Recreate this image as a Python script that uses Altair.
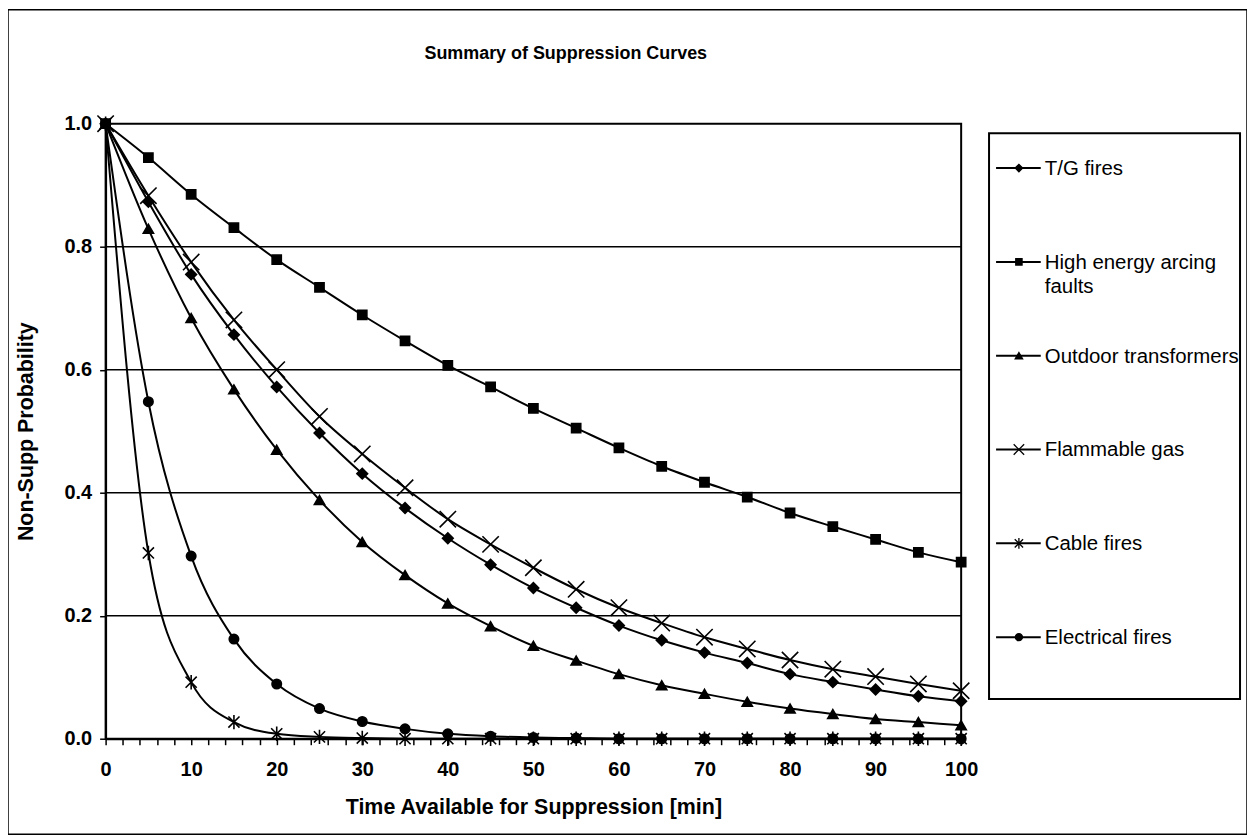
import altair as alt
import pandas as pd

# ---------------- data ----------------
times = list(range(0, 101, 5))
series_names = ["T/G fires", "High energy arcing faults", "Outdoor transformers",
                "Flammable gas", "Cable fires", "Electrical fires"]
legend_text = ["T/G fires", "High energy arcing\nfaults", "Outdoor transformers",
               "Flammable gas", "Cable fires", "Electrical fires"]

tg_fires = [1.0, 0.873, 0.755, 0.657, 0.572, 0.497, 0.431, 0.375, 0.326, 0.283, 0.245,
            0.213, 0.184, 0.160, 0.140, 0.123, 0.105, 0.092, 0.080, 0.069, 0.061]
heaf = [1.0, 0.945, 0.885, 0.831, 0.779, 0.734, 0.689, 0.647, 0.607, 0.572, 0.537,
        0.505, 0.473, 0.443, 0.417, 0.393, 0.367, 0.345, 0.324, 0.303, 0.287]
outdoor_tx = [1.0, 0.829, 0.684, 0.568, 0.470, 0.388, 0.320, 0.266, 0.220, 0.183, 0.151,
              0.127, 0.105, 0.087, 0.073, 0.060, 0.049, 0.040, 0.032, 0.027, 0.022]
flammable_gas = [1.0, 0.883, 0.775, 0.681, 0.600, 0.524, 0.463, 0.408, 0.357, 0.316, 0.278,
                 0.243, 0.213, 0.188, 0.165, 0.146, 0.128, 0.113, 0.101, 0.089, 0.078]
cable_fires = [1.0, 0.302, 0.092, 0.027, 0.008, 0.003, 0.001, 0.0, 0.0, 0.0, 0.0,
               0.0, 0.0, 0.0, 0.0, 0.0, 0.0, 0.0, 0.0, 0.0, 0.0]
electrical_fires = [1.0, 0.548, 0.297, 0.162, 0.089, 0.049, 0.028, 0.016, 0.008, 0.004, 0.002,
                    0.001, 0.0, 0.0, 0.0, 0.0, 0.0, 0.0, 0.0, 0.0, 0.0]

y_tick_values = [0.0, 0.2, 0.4, 0.6, 0.8, 1.0]
grid_values = [0.2, 0.4, 0.6, 0.8]
x_tick_values = list(range(0, 101, 2))

all_series = [tg_fires, heaf, outdoor_tx, flammable_gas, cable_fires, electrical_fires]
rows = []
for name, vals in zip(series_names, all_series):
    for t, v in zip(times, vals):
        rows.append({"series": name, "time": t, "prob": v})
df = pd.DataFrame(rows)
grid_df = pd.DataFrame({"value": grid_values})
frame_df = pd.DataFrame({"k": [0]})
leg_df = pd.DataFrame({"series": series_names, "idx": list(range(len(series_names))),
                       "text": legend_text})

# ---------------- styling ----------------
FONT = "Liberation Sans"
X_TITLE = "Time Available for Suppression [min]"
Y_TITLE = "Non-Supp Probability"
shape_range = ["diamond", "square", "triangle-up",
               "M-1,-1L1,1M-1,1L1,-1",
               "M-1,-1L1,1M-1,1L1,-1M0,-1.3L0,1.3",
               "circle"]
size_main = [115, 85, 105, 270, 125, 90]
size_leg = [55, 40, 55, 110, 70, 50]

x_scale = alt.Scale(domain=[0, 100], range=[98, 957], nice=False, zero=False)
y_scale = alt.Scale(domain=[0, 1], range=[732, 114.5], nice=False, zero=False)
shape_scale = alt.Scale(type="ordinal", domain=series_names, range=shape_range)

x_axis = alt.Axis(values=x_tick_values,
                  labelExpr="datum.value % 10 === 0 ? datum.label : ''",
                  offset=-96, grid=False, tickSize=6, labelPadding=15,
                  titlePadding=17, labelFontSize=20, titleFontSize=21.5,
                  labelFontWeight="bold", titleFontWeight="bold",
                  labelFlush=False, labelOverlap=False, title=X_TITLE)
y_axis = alt.Axis(values=y_tick_values, format=".1f", offset=-98, grid=False,
                  tickSize=6, labelPadding=8, titlePadding=27,
                  labelFontSize=20, titleFontSize=21.5,
                  labelFontWeight="bold", titleFontWeight="bold", title=Y_TITLE)

# ---------------- main plot ----------------
grid = alt.Chart(grid_df).mark_rule(color="black", strokeWidth=1.5).encode(
    x=alt.XDatum(0, scale=x_scale, axis=x_axis, title=X_TITLE),
    x2=alt.X2Datum(100),
    y=alt.Y("value:Q", scale=y_scale, axis=y_axis, title=Y_TITLE),
)
frame = alt.Chart(frame_df).mark_rect(fillOpacity=0, stroke="black", strokeWidth=2).encode(
    x=alt.XDatum(0, scale=x_scale, axis=x_axis, title=X_TITLE),
    x2=alt.X2Datum(100),
    y=alt.YDatum(0, scale=y_scale, axis=y_axis, title=Y_TITLE),
    y2=alt.Y2Datum(1),
)
lines = alt.Chart(df).mark_line(interpolate="monotone", color="black", strokeWidth=2).encode(
    x=alt.X("time:Q", scale=x_scale, axis=x_axis, title=X_TITLE),
    y=alt.Y("prob:Q", scale=y_scale, axis=y_axis, title=Y_TITLE),
    detail="series:N",
)
points = alt.Chart(df).mark_point(fill="black", stroke="black", strokeWidth=1.6, opacity=1).encode(
    x=alt.X("time:Q", scale=x_scale, axis=x_axis, title=X_TITLE),
    y=alt.Y("prob:Q", scale=y_scale, axis=y_axis, title=Y_TITLE),
    shape=alt.Shape("series:N", scale=shape_scale, legend=None),
    size=alt.Size("series:N", scale=alt.Scale(type="ordinal", domain=series_names, range=size_main),
                  legend=None),
)
main = alt.layer(grid, frame, lines, points)

# ---------------- legend panel ----------------
lx_scale = alt.Scale(domain=[0, 1], range=[985, 1237], nice=False, zero=False)
ly_scale = alt.Scale(domain=[-0.372, 5.658], range=[124, 692], nice=False, zero=False)

box = alt.Chart(frame_df).mark_rect(fill="white", stroke="black", strokeWidth=2).encode(
    x=alt.XDatum(0, scale=lx_scale, axis=None),
    x2=alt.X2Datum(1),
    y=alt.YDatum(-0.372, scale=ly_scale, axis=None),
    y2=alt.Y2Datum(5.658),
)
lrules = alt.Chart(leg_df).mark_rule(color="black", strokeWidth=2).encode(
    x=alt.XDatum(0.028, scale=lx_scale, axis=None),
    x2=alt.X2Datum(0.206),
    y=alt.Y("idx:Q", scale=ly_scale, axis=None),
)
lpoints = alt.Chart(leg_df).mark_point(fill="black", stroke="black", strokeWidth=1.3, opacity=1).encode(
    x=alt.XDatum(0.119, scale=lx_scale, axis=None),
    y=alt.Y("idx:Q", scale=ly_scale, axis=None),
    shape=alt.Shape("series:N", scale=shape_scale, legend=None),
    size=alt.Size("series:N", scale=alt.Scale(type="ordinal", domain=series_names, range=size_leg),
                  legend=None),
)
ltext = alt.Chart(leg_df).mark_text(align="left", baseline="top", dy=-9, lineBreak="\n",
                                    lineHeight=24, fontSize=20.5, font=FONT, color="black").encode(
    x=alt.XDatum(0.222, scale=lx_scale, axis=None),
    y=alt.Y("idx:Q", scale=ly_scale, axis=None),
    text="text:N",
)
legend_panel = alt.layer(box, lrules, lpoints, ltext)

chart = alt.layer(main, legend_panel).resolve_scale(
    x="independent", y="independent", size="independent"
).properties(
    width=1244, height=828,
    autosize=alt.AutoSizeParams(type="none"),
    padding=0,
    title=alt.TitleParams("Summary of Suppression Curves", font=FONT, fontSize=18,
                          fontWeight="bold", color="black", anchor="middle",
                          frame="group", baseline="alphabetic", offset=0, dy=68, dx=-62),
).configure_view(
    stroke="black", strokeWidth=1.5
).configure_axis(
    domainColor="black", domainWidth=2, tickColor="black", tickWidth=1.5,
    labelColor="black", titleColor="black", labelFont=FONT, titleFont=FONT,
)

chart.save("out.html", embed_options={"renderer": "svg", "actions": False})
